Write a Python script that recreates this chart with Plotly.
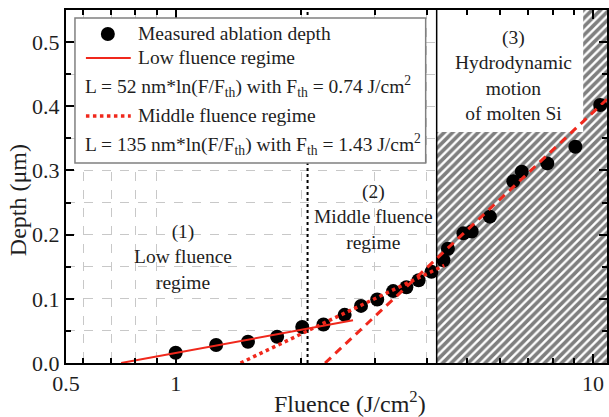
import math
import plotly.graph_objects as go

# ---------------- data ----------------
fluence = [1.00, 1.25, 1.49, 1.75, 2.01, 2.26, 2.54, 2.78, 3.04, 3.32, 3.57, 3.82,
           4.10, 4.38, 4.49, 4.89, 5.12, 5.66, 6.44, 6.75, 7.77, 9.07, 10.4]
depth = [0.016, 0.028, 0.033, 0.041, 0.056, 0.060, 0.075, 0.089, 0.099, 0.112, 0.118, 0.129,
         0.142, 0.160, 0.178, 0.202, 0.205, 0.228, 0.283, 0.298, 0.311, 0.337, 0.402]

# fit lines (straight on a log-x axis): end points
low_fit_F = [0.74, 2.66]
low_fit_depth = [0.0, 0.0665]
mid_fit_F = [1.43, 4.40]
mid_fit_depth = [0.0, 0.152]
high_fit_F = [2.28, 10.8]
high_fit_depth = [0.0, 0.411]

boundary_low_mid = 2.07      # black dotted line
hatch_start = 4.22           # start of hatched region
hatch_box_end = 9.47         # white text box inside hatch
hatch_box_bottom = 0.36

x_min, x_max = 0.546, 10.8
y_min, y_max = 0.0, 0.55

x_major = [x_min, 1, 10]
x_major_text = ["0.5", "1", "10"]
x_minor = [0.6, 0.7, 0.8, 0.9, 2, 3, 4, 5, 6, 7, 8, 9]
y_major = [0.0, 0.1, 0.2, 0.3, 0.4, 0.5]
y_major_text = ["0.0", "0.1", "0.2", "0.3", "0.4", "0.5"]

legend_texts = [
    "Measured ablation depth",
    "Low fluence regime",
    "L = 52 nm*ln(F/F<sub>th</sub>) with F<sub>th</sub> = 0.74 J/cm<sup>2</sup>",
    "Middle fluence regime",
    "L = 135 nm*ln(F/F<sub>th</sub>) with F<sub>th</sub> = 1.43 J/cm<sup>2</sup>",
]
region_texts = [
    "(1)<br>Low fluence<br>regime",
    "(2)<br>Middle fluence<br>regime",
    "(3)<br>Hydrodynamic<br>motion<br>of molten Si",
]

# ---------------- layout helpers ----------------
W, H = 609, 417
L, R, T, B = 66, 609, 10, 363
def px(x):
    return (x - L) / (R - L)
def py(y):
    return (B - y) / (B - T)

FONT = "Liberation Serif"
TXT = "#1e1e1e"
RED = "#f0281c"

fig = go.Figure()

# hatched region
fig.add_trace(go.Scatter(
    x=[hatch_start, x_max, x_max, hatch_start, hatch_start],
    y=[y_min, y_min, y_max, y_max, y_min],
    mode="lines", fill="toself", fillcolor="white",
    fillpattern=dict(shape="/", size=6, solidity=0.6, fgcolor="black", bgcolor="white"),
    line=dict(width=0), hoverinfo="skip"))
# white box for text (3)
fig.add_trace(go.Scatter(
    x=[hatch_start, hatch_box_end, hatch_box_end, hatch_start, hatch_start],
    y=[hatch_box_bottom, hatch_box_bottom, y_max, y_max, hatch_box_bottom],
    mode="lines", fill="toself", fillcolor="white", line=dict(width=0), hoverinfo="skip"))
# left border of hatch
fig.add_trace(go.Scatter(x=[hatch_start, hatch_start], y=[y_min, y_max], mode="lines",
                         line=dict(color="black", width=1.5), hoverinfo="skip"))
# boundary low/middle
fig.add_trace(go.Scatter(x=[boundary_low_mid, boundary_low_mid], y=[y_min, y_max], mode="lines",
                         line=dict(color="black", width=2, dash="dot"), hoverinfo="skip"))

# measured points
fig.add_trace(go.Scatter(x=fluence, y=depth, mode="markers",
                         marker=dict(color="black", size=14, line=dict(width=0))))
# fits
fig.add_trace(go.Scatter(x=low_fit_F, y=low_fit_depth, mode="lines",
                         line=dict(color=RED, width=2)))
fig.add_trace(go.Scatter(x=mid_fit_F, y=mid_fit_depth, mode="lines",
                         line=dict(color=RED, width=3.5, dash="dot")))
fig.add_trace(go.Scatter(x=high_fit_F, y=high_fit_depth, mode="lines",
                         line=dict(color=RED, width=3, dash="8px,6px")))

shapes = []
# legend box
shapes.append(dict(type="rect", xref="paper", yref="paper", x0=px(75), x1=px(427),
                   y0=py(163), y1=py(18), fillcolor="white",
                   line=dict(color="#808080", width=1.5), layer="above"))
# legend symbols
shapes.append(dict(type="circle", xref="paper", yref="paper", xsizemode="pixel", ysizemode="pixel",
                   xanchor=px(108), yanchor=py(34), x0=-7, x1=7, y0=-7, y1=7,
                   fillcolor="black", line=dict(width=0), layer="above"))
shapes.append(dict(type="line", xref="paper", yref="paper", x0=px(86), x1=px(131),
                   y0=py(58), y1=py(58), line=dict(color=RED, width=2), layer="above"))
shapes.append(dict(type="line", xref="paper", yref="paper", x0=px(86), x1=px(131),
                   y0=py(116), y1=py(116), line=dict(color=RED, width=3.5, dash="dot"), layer="above"))

ann = []
leg_pos = [(136, 33), (136, 58), (83, 87), (136, 116), (83, 144)]
for t, (lx, ly) in zip(legend_texts, leg_pos):
    ann.append(dict(text=t, xref="paper", yref="paper", x=px(lx), y=py(ly), xanchor="left",
                    yanchor="middle", showarrow=False, font=dict(family=FONT, size=19.5, color=TXT)))
reg_pos = [(183, 257), (375, 217), (515.5, 75)]
for t, (lx, ly) in zip(region_texts, reg_pos):
    ann.append(dict(text=t, xref="paper", yref="paper", x=px(lx), y=py(ly), xanchor="center",
                    yanchor="middle", showarrow=False, align="center",
                    font=dict(family=FONT, size=19.5, color=TXT)))
# axis titles
ann.append(dict(text="Fluence (J/cm<sup>2</sup>)", xref="paper", yref="paper", x=px(351), y=py(402),
                xanchor="center", yanchor="middle", showarrow=False,
                font=dict(family=FONT, size=24, color=TXT)))
ann.append(dict(text="Depth (μm)", xref="paper", yref="paper", x=px(18), y=py(200), textangle=-90,
                xanchor="center", yanchor="middle", showarrow=False,
                font=dict(family=FONT, size=24, color=TXT)))

fig.update_layout(
    width=W, height=H, margin=dict(l=L, r=W - R, t=T, b=H - B),
    paper_bgcolor="white", plot_bgcolor="white", showlegend=False,
    shapes=shapes, annotations=ann,
    xaxis=dict(type="log", range=[math.log10(x_min), math.log10(x_max)],
               tickmode="array", tickvals=x_major, ticktext=x_major_text,
               ticks="inside", ticklen=9, tickwidth=1.5, tickcolor="black",
               showline=True, linecolor="black", linewidth=2, mirror="allticks",
               showgrid=False, zeroline=False,
               tickfont=dict(family=FONT, size=22, color=TXT),
               minor=dict(tickmode="array", tickvals=x_minor, ticks="inside", ticklen=5,
                          tickwidth=1.5, tickcolor="black", showgrid=True,
                          gridcolor="#c8c8c8", griddash="dash", gridwidth=1)),
    yaxis=dict(range=[y_min, y_max], tickmode="array", tickvals=y_major, ticktext=y_major_text,
               ticks="inside", ticklen=8, tickwidth=1.5, tickcolor="black",
               showline=True, linecolor="black", linewidth=2, mirror="allticks",
               showgrid=False, zeroline=False,
               tickfont=dict(family=FONT, size=22, color=TXT),
               minor=dict(dtick=0.05, ticks="inside", ticklen=5, tickwidth=1.5, tickcolor="black",
                          showgrid=True, gridcolor="#c8c8c8", griddash="dash", gridwidth=1)),
)

fig.write_html("out.html", config={"displayModeBar": False},
               post_script="document.body.style.margin='0px';document.body.style.padding='0px';"
                           "document.body.style.overflow='hidden';")
